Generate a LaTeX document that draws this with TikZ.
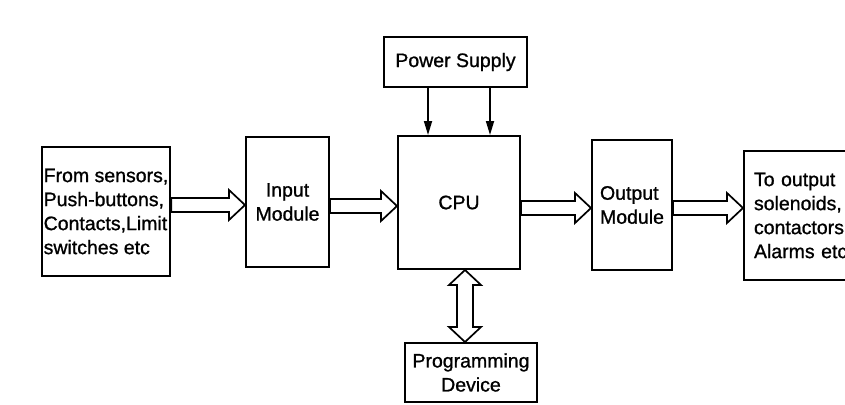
\documentclass[tikz,border=0pt]{standalone}
\usepackage{fontspec}
\setmainfont{Liberation Sans}[FakeBold=1.0]
\usetikzlibrary{calc,arrows.meta}
\tikzset{
  box/.style={draw=black, line width=2pt, inner sep=2pt, align=center,
    font=\fontsize{19.5}{24}\selectfont},
  blockarrow/.style={draw=black, line width=1.7pt, fill=white, line join=miter},
  feed/.style={draw=black, line width=1.7pt, -{Triangle[length=14pt,width=8pt]}},
}
\newcommand\harrowblk[3]{%
  \draw[blockarrow] let \p1=(#1.east), \p2=(#2.west) in
    ({\x1},{-#3pt+7pt}) -- ({\x2-16pt},{-#3pt+7pt}) -- ({\x2-16pt},{-#3pt+15pt})
    -- ({\x2},{-#3pt}) -- ({\x2-16pt},{-#3pt-15pt}) -- ({\x2-16pt},{-#3pt-7pt})
    -- ({\x1},{-#3pt-7pt}) -- cycle;}
\begin{document}
\begin{tikzpicture}[x=1pt,y=-1pt]
\useasboundingbox (0,0) rectangle (845,404);
\clip (0,0) rectangle (845,404);
\fill[white] (0,0) rectangle (845,404);

\node[box, minimum width=126pt, minimum height=129pt, align=left] (src) at (106,211.5)
  {From sensors,\\Push-buttons,\\Contacts,Limit\\switches etc};
\node[box, minimum width=83pt, minimum height=130pt] (inp) at (287.5,202) {Input\\Module};
\node[box, minimum width=122pt, minimum height=133pt] (cpu) at (459,202.5) {CPU};
\node[box, minimum width=143pt, minimum height=50pt] (ps) at (455.5,62) {Power Supply};
\node[box, minimum width=80pt, minimum height=130pt, align=left] (outm) at (632,205) {Output\\Module};
\node[box, anchor=west, minimum height=129pt, inner xsep=10pt, text width=112pt, align=left] (out) at (743,215.5)
  {To output\\solenoids,\\contactors,\\Alarms etc};
\node[box, minimum width=132pt, minimum height=59pt] (prog) at (471,372.5) {Programming\\Device};

\harrowblk{src}{inp}{205}
\harrowblk{inp}{cpu}{206}
\harrowblk{cpu}{outm}{208}
\harrowblk{outm}{out}{208}

\draw[feed] (ps.south -| 428,0) -- (cpu.north -| 428,0);
\draw[feed] (ps.south -| 490,0) -- (cpu.north -| 490,0);

\draw[blockarrow] let \p1=(cpu.south), \p2=(prog.north) in
  (465pt,{\y1}) -- (449pt,{\y1-15pt}) -- (457pt,{\y1-15pt}) -- (457pt,{\y2+15pt})
  -- (449pt,{\y2+15pt}) -- (465pt,{\y2}) -- (481pt,{\y2+15pt}) -- (473pt,{\y2+15pt})
  -- (473pt,{\y1-15pt}) -- (481pt,{\y1-15pt}) -- cycle;
\end{tikzpicture}
\end{document}
